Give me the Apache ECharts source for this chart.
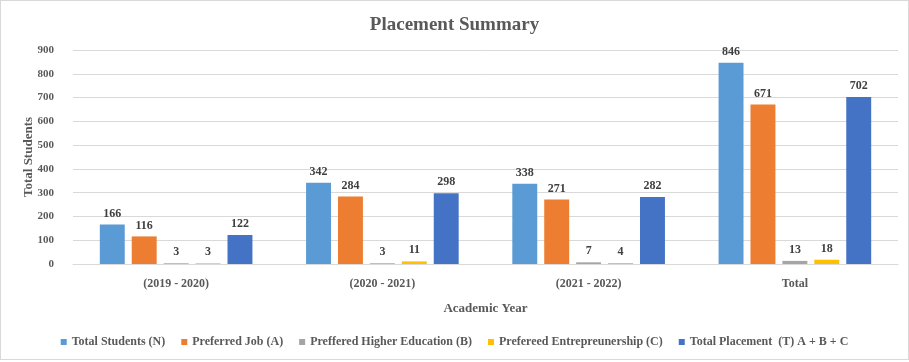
<!DOCTYPE html>
<html><head><meta charset="utf-8">
<script src="https://cdn.jsdelivr.net/npm/echarts@6/dist/echarts.min.js"></script>
<style>html,body{margin:0;padding:0;background:#fff}#c{position:absolute;left:0;top:0;width:907px;height:358px;border:1px solid #d9d9d9}</style>
</head><body><div id="c"></div>
<script>
const categories = ['(2019 - 2020)', '(2020 - 2021)', '(2021 - 2022)', 'Total'];
const seriesNames = ['Total Students (N)', 'Preferred Job (A)', 'Preffered Higher Education (B)', 'Prefereed Entrepreunership (C)', 'Total Placement  (T) A + B + C'];
const totalStudents = [166, 342, 338, 846];
const preferredJob = [116, 284, 271, 671];
const higherEdu = [3, 3, 7, 13];
const entrepreneurship = [3, 11, 4, 18];
const totalPlacement = [122, 298, 282, 702];
const colors = ['#5B9BD5', '#ED7D31', '#A5A5A5', '#FFC000', '#4472C4'];
const allData = [totalStudents, preferredJob, higherEdu, entrepreneurship, totalPlacement];
const font = 'Liberation Serif, Times New Roman, serif';
const chart = echarts.init(document.getElementById('c'));
chart.setOption({
  animation: false,
  title: {text: 'Placement Summary', left: 'center', top: 10, textStyle: {fontFamily: font, fontSize: 19, fontWeight: 'bold', color: '#595959'}},
  grid: {left: 72, right: 10, top: 49, bottom: 95},
  legend: {bottom: 6, left: 'center', itemWidth: 6, itemHeight: 6, itemGap: 16, icon: 'rect',
    textStyle: {fontFamily: font, fontSize: 12, fontWeight: 'bold', color: '#595959'}},
  xAxis: {type: 'category', data: categories, name: 'Academic Year', nameLocation: 'middle', nameGap: 38, nameMoveOverlap: false,
    nameTextStyle: {fontFamily: font, fontSize: 13, fontWeight: 'bold', color: '#595959'},
    axisLine: {lineStyle: {color: '#d9d9d9'}}, axisTick: {show: false},
    axisLabel: {fontFamily: font, fontSize: 12, fontWeight: 'bold', color: '#595959', margin: 14}},
  yAxis: {type: 'value', min: 0, max: 900, interval: 100, name: 'Total Students', nameLocation: 'middle', nameGap: 38, nameMoveOverlap: false,
    nameTextStyle: {fontFamily: font, fontSize: 13, fontWeight: 'bold', color: '#595959'},
    axisLabel: {fontFamily: font, fontSize: 11, fontWeight: 'bold', color: '#595959', margin: 19},
    splitLine: {lineStyle: {color: '#d9d9d9'}}},
  series: allData.map((d, i) => ({
    name: seriesNames[i], type: 'bar', data: d, barGap: '28%', barCategoryGap: '26%',
    itemStyle: {color: colors[i]},
    label: {show: true, position: 'top', distance: 5, fontFamily: font, fontSize: 12, fontWeight: 'bold', color: '#404040'}
  }))
});
</script></body></html>
